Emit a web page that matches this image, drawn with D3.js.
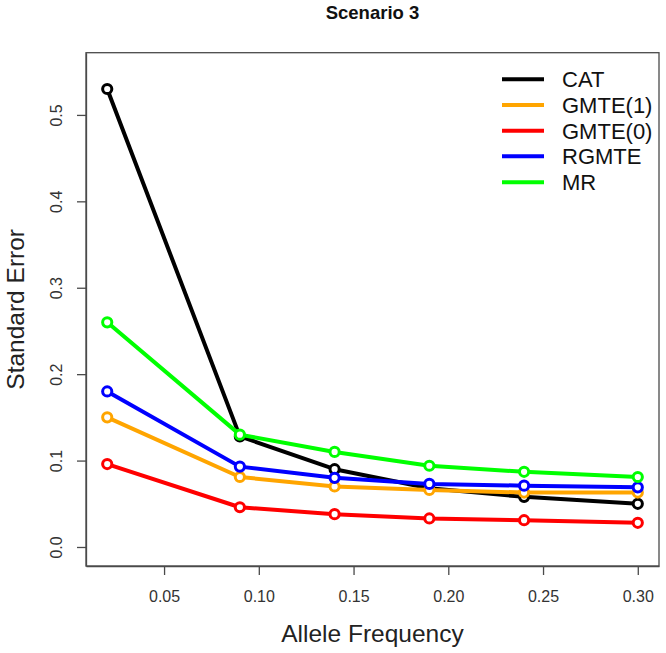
<!DOCTYPE html>
<html>
<head>
<meta charset="utf-8">
<script src="https://cdn.jsdelivr.net/npm/d3@7"></script>
<style>
  html, body { margin: 0; padding: 0; background: #fff; }
  svg { display: block; font-family: "Liberation Sans", Arial, Helvetica, sans-serif; }
</style>
</head>
<body>
<svg id="chart" width="666" height="653"></svg>
<script>
// ---- data ----
const alleleFreq = [0.02, 0.09, 0.14, 0.19, 0.24, 0.30];
const seriesNames = ["CAT", "GMTE(1)", "GMTE(0)", "RGMTE", "MR"];
const seriesColors = ["#000000", "#FFA500", "#FF0000", "#0000FF", "#00FF00"];
const catSE   = [0.530, 0.128, 0.090, 0.068, 0.058, 0.050];
const gmte1SE = [0.150, 0.081, 0.070, 0.066, 0.063, 0.063];
const gmte0SE = [0.096, 0.046, 0.038, 0.033, 0.031, 0.028];
const rgmteSE = [0.180, 0.093, 0.080, 0.073, 0.071, 0.069];
const mrSE    = [0.260, 0.130, 0.110, 0.094, 0.087, 0.081];
const xTicks = [0.05, 0.10, 0.15, 0.20, 0.25, 0.30];
const yTicks = [0.0, 0.1, 0.2, 0.3, 0.4, 0.5];
const titleText = "Scenario 3";
const xLabel = "Allele Frequency";
const yLabel = "Standard Error";

const seriesValues = [catSE, gmte1SE, gmte0SE, rgmteSE, mrSE];

// ---- layout ----
const svg = d3.select("#chart");
const pLeft = 86, pRight = 659, pTop = 52.7, pBottom = 566;

const x = d3.scaleLinear().domain([0.0088, 0.3112]).range([pLeft, pRight]);
const y = d3.scaleLinear().domain([-0.022, 0.572]).range([pBottom, pTop]);

// box
svg.append("rect")
  .attr("x", pLeft).attr("y", pTop)
  .attr("width", pRight - pLeft).attr("height", pBottom - pTop)
  .attr("fill", "none").attr("stroke", "#4a4a4a").attr("stroke-width", 1.3);

// x axis
const xAxis = d3.axisBottom(x).tickValues(xTicks).tickSize(9).tickSizeOuter(0)
  .tickFormat(d3.format(".2f"));
const gx = svg.append("g").attr("transform", `translate(0,${pBottom})`).call(xAxis);
gx.select(".domain").attr("stroke", "#4a4a4a").attr("stroke-width", 1.3);
gx.selectAll(".tick line").attr("stroke", "#4a4a4a").attr("stroke-width", 1.3);
gx.selectAll(".tick text").attr("font-size", 16).attr("fill", "#333")
  .attr("font-family", "Liberation Sans, Arial, sans-serif")
  .attr("y", null).attr("dy", null)
  .attr("transform", "translate(0,36)");

// y axis
const yAxis = d3.axisLeft(y).tickValues(yTicks).tickSize(9).tickSizeOuter(0)
  .tickFormat(d3.format(".1f"));
const gy = svg.append("g").attr("transform", `translate(${pLeft},0)`).call(yAxis);
gy.select(".domain").attr("stroke", "#4a4a4a").attr("stroke-width", 1.3);
gy.selectAll(".tick line").attr("stroke", "#4a4a4a").attr("stroke-width", 1.3);
gy.selectAll(".tick text").attr("font-size", 16).attr("fill", "#333")
  .attr("font-family", "Liberation Sans, Arial, sans-serif")
  .attr("x", null).attr("dy", null)
  .attr("text-anchor", "middle")
  .attr("transform", "translate(-24,0) rotate(-90)");

// title
svg.append("text")
  .attr("x", (pLeft + pRight) / 2).attr("y", 19)
  .attr("text-anchor", "middle")
  .attr("font-weight", "bold").attr("font-size", 18.5).attr("fill", "#111")
  .text(titleText);

// axis labels
svg.append("text")
  .attr("x", (pLeft + pRight) / 2).attr("y", 641.5)
  .attr("text-anchor", "middle").attr("font-size", 24.5).attr("fill", "#222")
  .text(xLabel);
svg.append("text")
  .attr("transform", `translate(24,${(pTop + pBottom) / 2}) rotate(-90)`)
  .attr("text-anchor", "middle").attr("font-size", 24.5).attr("fill", "#222")
  .text(yLabel);

// series
const line = d3.line().x((d, i) => x(alleleFreq[i])).y(d => y(d));
seriesValues.forEach((vals, si) => {
  svg.append("path")
    .attr("d", line(vals))
    .attr("fill", "none")
    .attr("stroke", seriesColors[si])
    .attr("stroke-width", 4)
    .attr("stroke-linejoin", "round");
  svg.append("g").selectAll("circle")
    .data(vals).join("circle")
    .attr("cx", (d, i) => x(alleleFreq[i]))
    .attr("cy", d => y(d))
    .attr("r", 4.6)
    .attr("fill", "#fff")
    .attr("stroke", seriesColors[si])
    .attr("stroke-width", 3);
});

// legend
const legendRows = [79.3, 105, 130.7, 156.3, 182.3];
const lg = svg.append("g");
seriesNames.forEach((name, i) => {
  const yy = legendRows[i];
  lg.append("line")
    .attr("x1", 502).attr("x2", 544).attr("y1", yy).attr("y2", yy)
    .attr("stroke", seriesColors[i]).attr("stroke-width", 4);
  lg.append("text")
    .attr("x", 562).attr("y", yy + 8)
    .attr("font-size", 22).attr("fill", "#111")
    .text(name);
});
</script>
</body>
</html>
